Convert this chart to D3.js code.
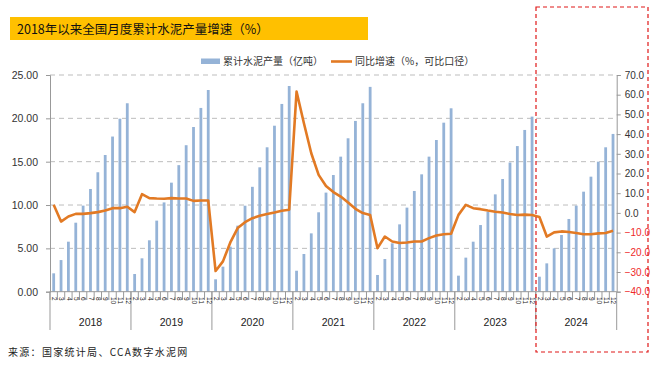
<!DOCTYPE html>
<html><head><meta charset="utf-8">
<script src="https://cdn.jsdelivr.net/npm/d3@7"></script>
<style>
html,body{margin:0;padding:0;background:#fff;}
svg{display:block;font-family:"Noto Sans CJK SC","Noto Sans",sans-serif;}
</style></head>
<body><svg id="c" width="661" height="365"></svg>
<script>
const years = ["2018","2019","2020","2021","2022","2023","2024"];
const months = ["2","3","4","5","6","7","8","9","10","11","12"];
const output = [
  2.12, 3.65, 5.77, 7.96, 9.93, 11.85, 13.78, 15.77, 17.9, 19.96, 21.74,
  2.04, 3.85, 5.93, 8.2, 10.3, 12.58, 14.6, 16.9, 19.0, 21.2, 23.27,
  1.43, 2.89, 5.2, 7.62, 9.92, 12.1, 14.35, 16.66, 19.15, 21.66, 23.73,
  2.42, 4.35, 6.73, 9.16, 11.43, 13.46, 15.58, 17.7, 19.7, 21.74, 23.63,
  1.93, 3.77, 5.58, 7.77, 9.7, 11.62, 13.54, 15.58, 17.5, 19.5, 21.16,
  1.85, 3.93, 5.77, 7.69, 9.23, 11.23, 13.0, 14.9, 16.8, 18.66, 20.2,
  1.73, 3.27, 5.0, 6.54, 8.39, 9.93, 11.54, 13.27, 15.0, 16.66, 18.2
];
const growth = [
  4.1, -4.4, -1.8, -0.5, -0.5, -0.1, 0.4, 1.2, 2.4, 2.4, 3.1,
  0.4, 9.5, 7.5, 7.3, 7.2, 7.5, 7.3, 7.3, 6.1, 6.3, 6.3,
  -29.5, -24.6, -15, -7.7, -4.7, -2.7, -1.5, -0.6, 0.2, 1.1, 1.6,
  61.6, 45.5, 30.3, 19.3, 13.7, 10.6, 8.3, 5.3, 2.1, -0.1, -1.1,
  -17.9, -12, -14.5, -15.3, -15, -14.5, -14.5, -12.8, -11.5, -10.8, -10.6,
  -1, 4.1, 2.4, 1.9, 1.2, 0.6, 0.2, -0.6, -1.1, -0.9, -1.1,
  -2.1, -12, -9.9, -9.4, -9.7, -10.2, -10.8, -10.8, -10.4, -10.2, -9.1
];
const leftTicks = [0, 5, 10, 15, 20, 25];
const rightTicks = [-40, -30, -20, -10, 0, 10, 20, 30, 40, 50, 60, 70];
const title = "2018年以来全国月度累计水泥产量增速（%）";
const legendBar = "累计水泥产量（亿吨）";
const legendLine = "同比增速（%，可比口径）";
const source = "来源：国家统计局、CCA数字水泥网";

const svg = d3.select("#c");
const L = 50, R = 616.7, T = 75, B = 291.7;
const cats = years.flatMap(y => months.map(m => y + "-" + m));
const x = d3.scaleBand().domain(cats).range([L, R]).paddingInner(0.62).paddingOuter(0.31);
const step = x.step();
const yl = d3.scaleLinear().domain([0, 25]).range([B, T]);
const yr = d3.scaleLinear().domain([-40, 70]).range([B, T]);

// title banner
svg.append("rect").attr("x", 10).attr("y", 17).attr("width", 358).attr("height", 23).attr("fill", "#ffc000");
svg.append("text").attr("x", 17).attr("y", 33.5).attr("font-size", 12.5).attr("fill", "#111").text(title);

// gridlines
svg.append("g").selectAll("line").data(leftTicks.filter(d => d > 0)).join("line")
  .attr("x1", L).attr("x2", R).attr("y1", d => yl(d)).attr("y2", d => yl(d))
  .attr("stroke", "#bdbdbd").attr("stroke-width", 1).attr("stroke-dasharray", "5,4");

// bars
svg.append("g").selectAll("rect").data(output).join("rect")
  .attr("x", (d, i) => x(cats[i])).attr("width", x.bandwidth())
  .attr("y", d => yl(d)).attr("height", d => B - yl(d)).attr("fill", "#95b3d7");

// line
const line = d3.line().x((d, i) => x(cats[i]) + x.bandwidth() / 2).y(d => yr(d));
svg.append("path").datum(growth).attr("d", line).attr("fill", "none")
  .attr("stroke", "#e27a24").attr("stroke-width", 2.6).attr("stroke-linejoin", "round");

// left axis
const gl = svg.append("g").attr("transform", `translate(${L},0)`)
  .call(d3.axisLeft(yl).tickValues(leftTicks).tickFormat(d3.format(".2f")).tickSize(4).tickPadding(8));
gl.select(".domain").attr("stroke", "#999");
gl.selectAll(".tick line").attr("stroke", "#999");
gl.selectAll("text").attr("font-size", 10.5).attr("fill", "#333").attr("font-family", "'Liberation Sans',Arial,sans-serif");

// right axis
const gr = svg.append("g").attr("transform", `translate(${R},0)`)
  .call(d3.axisRight(yr).tickValues(rightTicks).tickFormat(d3.format(".1f")).tickSize(4).tickPadding(4));
gr.select(".domain").attr("stroke", "#999");
gr.selectAll(".tick line").attr("stroke", "#999");
gr.selectAll("text").attr("font-size", 10).attr("font-family", "'Liberation Sans',Arial,sans-serif")
  .attr("fill", d => d < 0 ? "#ee2a2a" : "#333");

// bottom axis line
svg.append("line").attr("x1", L).attr("x2", R).attr("y1", B).attr("y2", B).attr("stroke", "#999");
// left axis extension
svg.append("line").attr("x1", L).attr("x2", L).attr("y1", B).attr("y2", 330).attr("stroke", "#999");

// category ticks
const gx = svg.append("g");
gx.selectAll("line.t").data(cats).join("line").attr("class", "t")
  .attr("x1", d => x(d) - (step - x.bandwidth()) / 2).attr("x2", d => x(d) - (step - x.bandwidth()) / 2)
  .attr("y1", B).attr("y2", 300).attr("stroke", "#999");
// year boundaries
gx.selectAll("line.y").data(years).join("line").attr("class", "y")
  .attr("x1", (d, i) => x(d + "-12") + x.bandwidth() + (step - x.bandwidth()) / 2)
  .attr("x2", (d, i) => x(d + "-12") + x.bandwidth() + (step - x.bandwidth()) / 2)
  .attr("y1", B).attr("y2", 330).attr("stroke", "#999");
// month labels
gx.selectAll("text.m").data(cats).join("text").attr("class", "m")
  .attr("transform", d => `translate(${x(d) + x.bandwidth() / 2},297) rotate(90)`)
  .attr("font-size", 6.5).attr("dominant-baseline", "middle").attr("fill", "#222")
  .attr("font-family", "'Liberation Sans',Arial,sans-serif")
  .text(d => d.split("-")[1]);
// year labels
gx.selectAll("text.yl").data(years).join("text").attr("class", "yl")
  .attr("x", d => (x(d + "-2") + x(d + "-12") + x.bandwidth()) / 2).attr("y", 326)
  .attr("text-anchor", "middle").attr("font-size", 10.5).attr("fill", "#222")
  .attr("font-family", "'Liberation Sans',Arial,sans-serif").text(d => d);

// legend
svg.append("rect").attr("x", 201).attr("y", 58.5).attr("width", 19).attr("height", 5.5).attr("fill", "#95b3d7");
svg.append("text").attr("x", 223).attr("y", 65).attr("font-size", 10).attr("fill", "#333").text(legendBar);
svg.append("line").attr("x1", 331).attr("x2", 352).attr("y1", 61.5).attr("y2", 61.5).attr("stroke", "#e27a24").attr("stroke-width", 2.6);
svg.append("text").attr("x", 355).attr("y", 65).attr("font-size", 10).attr("fill", "#333").text(legendLine);

// source
svg.append("text").attr("x", 8).attr("y", 356).attr("font-size", 10).attr("letter-spacing", 1.3)
  .attr("fill", "#222").text(source);

// red dashed highlight box
svg.append("rect").attr("x", 536).attr("y", 7).attr("width", 112).attr("height", 345)
  .attr("fill", "none").attr("stroke", "#e01818").attr("stroke-width", 1.2).attr("stroke-dasharray", "4,3");
</script></body></html>
